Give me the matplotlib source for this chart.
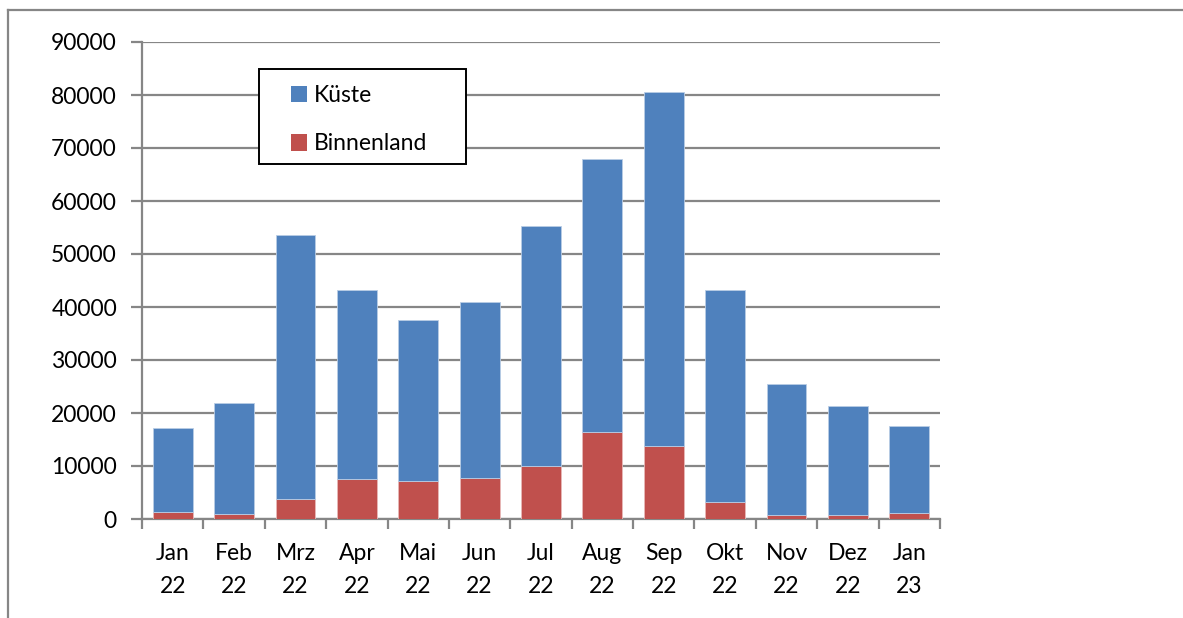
import matplotlib
matplotlib.use("Agg")
import matplotlib.pyplot as plt
from matplotlib.patches import Rectangle
from matplotlib.lines import Line2D
import numpy as np

categories = ["Jan\n22", "Feb\n22", "Mrz\n22", "Apr\n22", "Mai\n22", "Jun\n22", "Jul\n22",
              "Aug\n22", "Sep\n22", "Okt\n22", "Nov\n22", "Dez\n22", "Jan\n23"]
binnenland = [1320, 1000, 3770, 7490, 7110, 7800, 10000, 16490, 13850, 3280, 700, 830, 1070]
total = [17170, 21830, 53500, 43150, 37500, 41000, 55200, 67900, 80500, 43150, 25400, 21400, 17620]
kueste = [t - b for t, b in zip(total, binnenland)]
yticks = [0, 10000, 20000, 30000, 40000, 50000, 60000, 70000, 80000, 90000]

plt.rcParams['font.family'] = ['Lato', 'DejaVu Sans']

W, H = 1183, 618
fig = plt.figure(figsize=(W / 100, H / 100), dpi=100)
ax = fig.add_axes([142 / W, 1 - 519 / H, (940 - 142) / W, (519 - 42) / H])

grid_c = '#868686'
FS = 16.5
x = np.arange(len(categories))
bw = 0.65
ax.bar(x, binnenland, bw, color='#C0504D', edgecolor='#e8b8b7', linewidth=0.6, label='Binnenland', zorder=3)
ax.bar(x, kueste, bw, bottom=binnenland, color='#4F81BD', edgecolor='#b9cde5', linewidth=0.6, label='Küste', zorder=3)

ax.set_xlim(-0.5, len(categories) - 0.5)
ax.set_ylim(0, 90000)
ax.set_yticks(yticks)
ax.set_yticklabels([str(v) for v in yticks])
ax.yaxis.grid(True, color=grid_c, linewidth=1.6, zorder=0)
ax.set_axisbelow(True)

for s in ['top', 'right']:
    ax.spines[s].set_visible(False)
for s in ['left', 'bottom']:
    ax.spines[s].set_color(grid_c)
    ax.spines[s].set_linewidth(1.6)

ax.set_xticks(x)
ax.set_xticklabels(categories, fontsize=FS, linespacing=1.72)
ax.tick_params(axis='x', length=0, pad=17)
ax.set_xticks(np.arange(-0.5, len(categories), 1), minor=True)
ax.tick_params(axis='x', which='minor', length=7, width=1.6, color=grid_c, direction='out')
ax.tick_params(axis='y', length=8, width=1.6, color=grid_c, labelsize=FS, pad=10)

handles, labels = ax.get_legend_handles_labels()
leg = fig.legend(handles[::-1], labels[::-1], loc='upper left', bbox_to_anchor=(291 / W, 1 - 85 / H),
                 fontsize=FS, frameon=False, borderpad=0, labelspacing=1.2,
                 handlelength=0.7, handleheight=0.7, handletextpad=0.3, borderaxespad=0)
for p in leg.get_patches():
    p.set_edgecolor('none')
leg.set_zorder(6)

# legend frame
fig.add_artist(Rectangle((259 / W, 1 - 164 / H), (466 - 259) / W, (164 - 69) / H, transform=fig.transFigure,
                         facecolor='white', edgecolor='black', linewidth=1.4, zorder=5))

# outer chart frame
fig.add_artist(Line2D([8 / W, 8 / W], [0, 1 - 10 / H], color=grid_c, linewidth=1.6, transform=fig.transFigure))
fig.add_artist(Line2D([8 / W, 1], [1 - 10 / H, 1 - 10 / H], color=grid_c, linewidth=1.6, transform=fig.transFigure))

fig.savefig("out.png", dpi=100)
